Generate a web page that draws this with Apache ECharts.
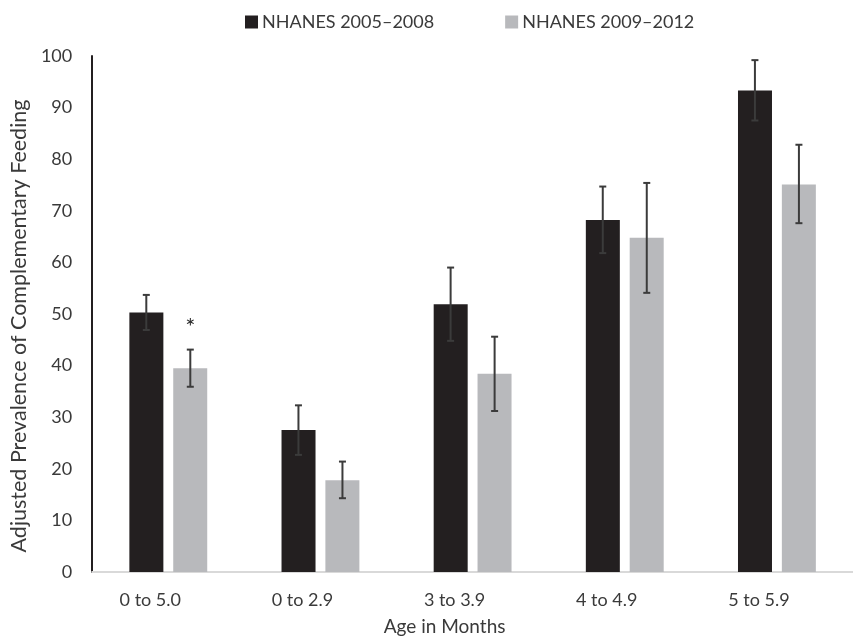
<!DOCTYPE html>
<html><head><meta charset="utf-8">
<script src="https://cdn.jsdelivr.net/npm/echarts@6/dist/echarts.min.js"></script>
<style>html,body{margin:0;padding:0;background:#fff}#c{width:853px;height:641px}</style>
</head><body><div id="c"></div>
<script>
const categories = ['0 to 5.0', '0 to 2.9', '3 to 3.9', '4 to 4.9', '5 to 5.9'];
const seriesNames = ['NHANES 2005\u20132008', 'NHANES 2009\u20132012'];
const values0508 = [50.3, 27.5, 51.9, 68.2, 93.3];
const low0508 = [46.9, 22.7, 44.8, 61.8, 87.5];
const high0508 = [53.7, 32.3, 59.0, 74.7, 99.2];
const values0912 = [39.5, 17.8, 38.4, 64.8, 75.1];
const low0912 = [35.9, 14.3, 31.2, 54.1, 67.6];
const high0912 = [43.1, 21.4, 45.6, 75.4, 82.8];
const annotations = ['*', '', '', '', ''];
const yTicks = [0, 10, 20, 30, 40, 50, 60, 70, 80, 90, 100];

const FONT = 'Lato';
const TXT = '#3a3a3a';
const BAR_W = 34, OFFSET = 22;

function errSeries(low, high, dx, notes) {
  return {
    type: 'custom',
    silent: true,
    z: 5,
    data: categories.map((c, i) => [i, low[i], high[i], notes ? notes[i] : '']),
    renderItem: function (params, api) {
      const i = api.value(0);
      const pLo = api.coord([i, api.value(1)]);
      const pHi = api.coord([i, api.value(2)]);
      const x = pLo[0] + dx;
      const cap = 3.5;
      const st = { stroke: '#3b3b3b', lineWidth: 2 };
      const children = [
        { type: 'line', shape: { x1: x, y1: pLo[1], x2: x, y2: pHi[1] }, style: st },
        { type: 'line', shape: { x1: x - cap, y1: pLo[1], x2: x + cap, y2: pLo[1] }, style: st },
        { type: 'line', shape: { x1: x - cap, y1: pHi[1], x2: x + cap, y2: pHi[1] }, style: st }
      ];
      const note = api.value(3);
      if (note) {
        children.push({ type: 'text', style: { text: note, x: x, y: pHi[1] - 22, align: 'center', verticalAlign: 'middle', fill: '#2a2a2a', font: '24px ' + FONT } });
      }
      return { type: 'group', children: children };
    }
  };
}

const chart = echarts.init(document.getElementById('c'), null, { renderer: 'canvas' });
chart.setOption({
  animation: false,
  textStyle: { fontFamily: FONT },
  legend: {
    top: 8, left: 240,
    itemWidth: 13, itemHeight: 13, itemGap: 71,
    icon: 'rect',
    textStyle: { fontFamily: FONT, fontSize: 18, color: TXT, padding: [0, 0, 0, -1] },
    data: seriesNames
  },
  grid: { left: 90, right: -10, top: 56, bottom: 69, containLabel: false },
  xAxis: {
    type: 'category',
    data: categories,
    name: 'Age in Months',
    nameLocation: 'middle',
    nameGap: 45,
    nameTextStyle: { fontFamily: FONT, fontSize: 19, color: TXT, padding: [0, 56, 0, 0] },
    axisLine: { lineStyle: { color: '#d9d9d9', width: 2 } },
    axisTick: { show: false },
    axisLabel: { fontFamily: FONT, fontSize: 18, color: TXT, margin: 19, padding: [0, 36, 0, 0] }
  },
  yAxis: {
    type: 'value',
    min: yTicks[0], max: yTicks[yTicks.length - 1], interval: 10,
    name: 'Adjusted Prevalence of Complementary Feeding',
    nameLocation: 'middle',
    nameGap: 57,
    nameTextStyle: { fontFamily: FONT, fontSize: 21.5, color: TXT, padding: [0, 24, 0, 0] },
    axisLine: { show: true, lineStyle: { color: '#231f20', width: 2 } },
    axisTick: { show: false },
    splitLine: { show: false },
    axisLabel: { fontFamily: FONT, fontSize: 18, color: TXT, margin: 20 }
  },
  series: [
    { name: seriesNames[0], type: 'bar', data: values0508, barWidth: BAR_W, barGap: '29%', itemStyle: { color: '#231f20' } },
    { name: seriesNames[1], type: 'bar', data: values0912, barWidth: BAR_W, barGap: '29%', itemStyle: { color: '#b8b9bc' } },
    errSeries(low0508, high0508, -OFFSET),
    errSeries(low0912, high0912, OFFSET, annotations)
  ]
});
</script></body></html>
